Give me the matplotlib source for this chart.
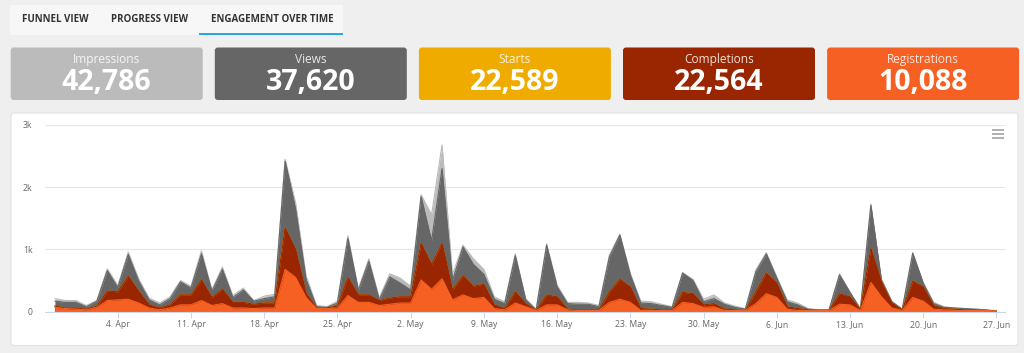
"""Engagement over time dashboard: KPI cards plus overlapping daily area chart."""

import matplotlib
matplotlib.use("Agg")
import matplotlib.pyplot as plt
import matplotlib.dates as mdates
from matplotlib.patches import FancyBboxPatch, Rectangle
import pandas as pd

plt.rcParams["font.family"] = ["Open Sans", "DejaVu Sans"]

# KPI cards
card_labels = ["Impressions", "Views", "Starts", "Completions", "Registrations"]
card_values = [42786, 37620, 22589, 22564, 10088]
card_colors = ["#bbbbbb", "#666666", "#f0ab00", "#992600", "#f66123"]

tab_labels = ["FUNNEL VIEW", "PROGRESS VIEW", "ENGAGEMENT OVER TIME"]

# daily series, 29 Mar .. 27 Jun
start_date = "2021-03-29"
impressions = [
    210, 180, 180, 100, 180, 690, 420, 960, 530, 220, 140, 240, 500, 410, 980,
    350, 720, 260, 380, 180, 250, 280, 2450, 1750, 580, 100, 80, 170, 1220, 370,
    850, 220, 610, 540, 410, 1880, 1560, 2680, 600, 1070, 850, 680, 240, 160, 930,
    210, 40, 1090, 430, 150, 150, 140, 100, 910, 1250, 620, 170, 160, 120, 80,
    630, 520, 200, 270, 140, 90, 50, 670, 950, 560, 190, 140, 50, 30, 30,
    610, 320, 50, 1730, 530, 170, 40, 950, 470, 150, 80, 60, 50, 40, 30, 10,
]
views = [
    170, 150, 150, 80, 170, 660, 390, 920, 490, 190, 110, 210, 480, 380, 930,
    330, 680, 230, 350, 170, 210, 240, 2420, 1650, 520, 80, 70, 140, 1180, 340,
    810, 190, 560, 460, 350, 1850, 1140, 2300, 500, 1040, 760, 600, 200, 130, 900,
    190, 30, 1070, 400, 130, 120, 120, 80, 880, 1230, 590, 140, 130, 100, 70,
    620, 500, 160, 210, 120, 70, 40, 640, 930, 540, 160, 110, 40, 30, 30,
    590, 310, 40, 1710, 510, 160, 40, 940, 460, 130, 70, 60, 50, 40, 30, 10,
]
starts = [
    90, 60, 60, 40, 90, 330, 320, 570, 330, 110, 60, 110, 270, 270, 510,
    230, 360, 150, 150, 120, 140, 140, 1350, 1000, 300, 60, 60, 90, 550, 270,
    270, 180, 220, 240, 240, 1100, 760, 1100, 350, 580, 410, 440, 110, 50, 320,
    130, 20, 270, 240, 40, 30, 30, 30, 320, 520, 400, 50, 40, 30, 30,
    310, 290, 110, 130, 40, 30, 20, 320, 620, 460, 80, 50, 30, 20, 20,
    290, 240, 30, 1020, 480, 140, 30, 490, 400, 100, 50, 40, 30, 30, 20, 10,
]
completions = [
    90, 60, 60, 40, 90, 330, 320, 570, 330, 110, 60, 110, 270, 270, 510,
    230, 360, 150, 150, 120, 140, 140, 1350, 1000, 300, 60, 60, 90, 550, 270,
    270, 180, 220, 240, 240, 1100, 760, 1100, 350, 580, 410, 440, 110, 50, 320,
    130, 20, 270, 240, 40, 30, 30, 30, 320, 520, 400, 50, 40, 30, 30,
    310, 290, 110, 130, 40, 30, 20, 320, 620, 460, 80, 50, 30, 20, 20,
    290, 240, 30, 1020, 480, 140, 30, 490, 400, 100, 50, 40, 30, 30, 20, 10,
]
registrations = [
    70, 50, 40, 30, 70, 180, 190, 200, 140, 60, 30, 60, 110, 110, 180,
    100, 130, 60, 60, 50, 60, 60, 680, 550, 230, 50, 50, 60, 260, 150,
    150, 100, 120, 140, 140, 510, 360, 530, 190, 270, 210, 230, 50, 30, 140,
    80, 20, 110, 110, 30, 20, 20, 20, 150, 200, 150, 20, 20, 20, 20,
    150, 130, 70, 80, 20, 20, 20, 130, 290, 230, 40, 20, 20, 20, 20,
    120, 110, 20, 470, 240, 60, 20, 230, 170, 40, 30, 20, 20, 20, 20, 10,
]

W, H = 1024, 353
fig = plt.figure(figsize=(W / 100, H / 100), dpi=100)
fig.patch.set_facecolor("#efefef")

# pixel-space overlay for the page furniture
bg = fig.add_axes([0, 0, 1, 1])
bg.set_xlim(0, W)
bg.set_ylim(H, 0)
bg.axis("off")

# tab bar
bg.add_patch(Rectangle((10, 5), 333, 30, facecolor="#f7f7f7", edgecolor="none"))
bg.add_patch(Rectangle((199, 33), 144, 2, facecolor="#2aa9e0", edgecolor="none"))
for label, x in zip(tab_labels, [22, 111, 211]):
    bg.text(x, 19.5, label, fontsize=7, fontweight="bold", color="#333333",
            ha="left", va="center")

# KPI cards
card_w, gap = 192, 12.1
for i, (label, value, color) in enumerate(zip(card_labels, card_values, card_colors)):
    x0 = 10.7 + i * (card_w + gap)
    bg.add_patch(FancyBboxPatch((x0, 47.5), card_w, 52.5,
                                boxstyle="round,pad=0,rounding_size=3",
                                facecolor=color, edgecolor="none"))
    bg.text(x0 + card_w / 2, 59.5, label, fontsize=8.6, color="white", alpha=0.85,
            ha="center", va="center")
    bg.text(x0 + card_w / 2, 82.5, f"{value:,}", fontsize=20.5, fontweight="bold",
            color="white", ha="center", va="center")

# chart panel
bg.add_patch(FancyBboxPatch((11, 113), 1007, 232.5,
                            boxstyle="round,pad=0,rounding_size=3",
                            facecolor="white", edgecolor="#e2e2e2", linewidth=0.8))
for yy in (130, 134, 138):
    bg.plot([992, 1004], [yy, yy], color="#aaaaaa", lw=1.3, solid_capstyle="butt")

# area chart
dates = pd.date_range(start_date, periods=len(impressions), freq="D")
x0_px, x1_px, y0_px, y1_px = 45, 1005, 311.7, 125
ax = fig.add_axes([x0_px / W, (H - y0_px) / H, (x1_px - x0_px) / W, (y0_px - y1_px) / H])
ax.set_facecolor("none")

series = [
    (impressions, "#bbbbbb"),
    (views, "#666666"),
    (starts, "#f0ab00"),
    (completions, "#992600"),
    (registrations, "#f66123"),
]
for vals, color in series:
    ax.fill_between(dates, 0, vals, color=color, linewidth=0, zorder=2)
    ax.plot(dates, vals, color=color, lw=0.8, zorder=2)

px_day = 10.46
ax.set_xlim(dates[0] - pd.Timedelta(days=(55 - x0_px) / px_day),
            dates[0] + pd.Timedelta(days=(x1_px - 55) / px_day))
ax.set_ylim(0, 3000)
ax.set_yticks([0, 1000, 2000, 3000])
ax.set_yticklabels(["0", "1k", "2k", "3k"])
ax.grid(axis="y", color="#e6e6e6", lw=0.8, zorder=0)
ax.set_axisbelow(True)

ticks = pd.date_range("2021-04-04", "2021-06-27", freq="7D")
ax.set_xticks(ticks)
ax.xaxis.set_major_formatter(mdates.DateFormatter("%-d. %b"))

for s in ("top", "right", "left"):
    ax.spines[s].set_visible(False)
ax.spines["bottom"].set_color("#ccd6eb")
ax.spines["bottom"].set_linewidth(0.8)
ax.tick_params(axis="y", length=0, pad=9, labelsize=6.2, labelcolor="#666666")
ax.tick_params(axis="x", length=4, width=0.7, color="#ccd6eb", pad=2,
               labelsize=6.2, labelcolor="#666666")

fig.savefig("out.png", dpi=100, facecolor=fig.get_facecolor())
